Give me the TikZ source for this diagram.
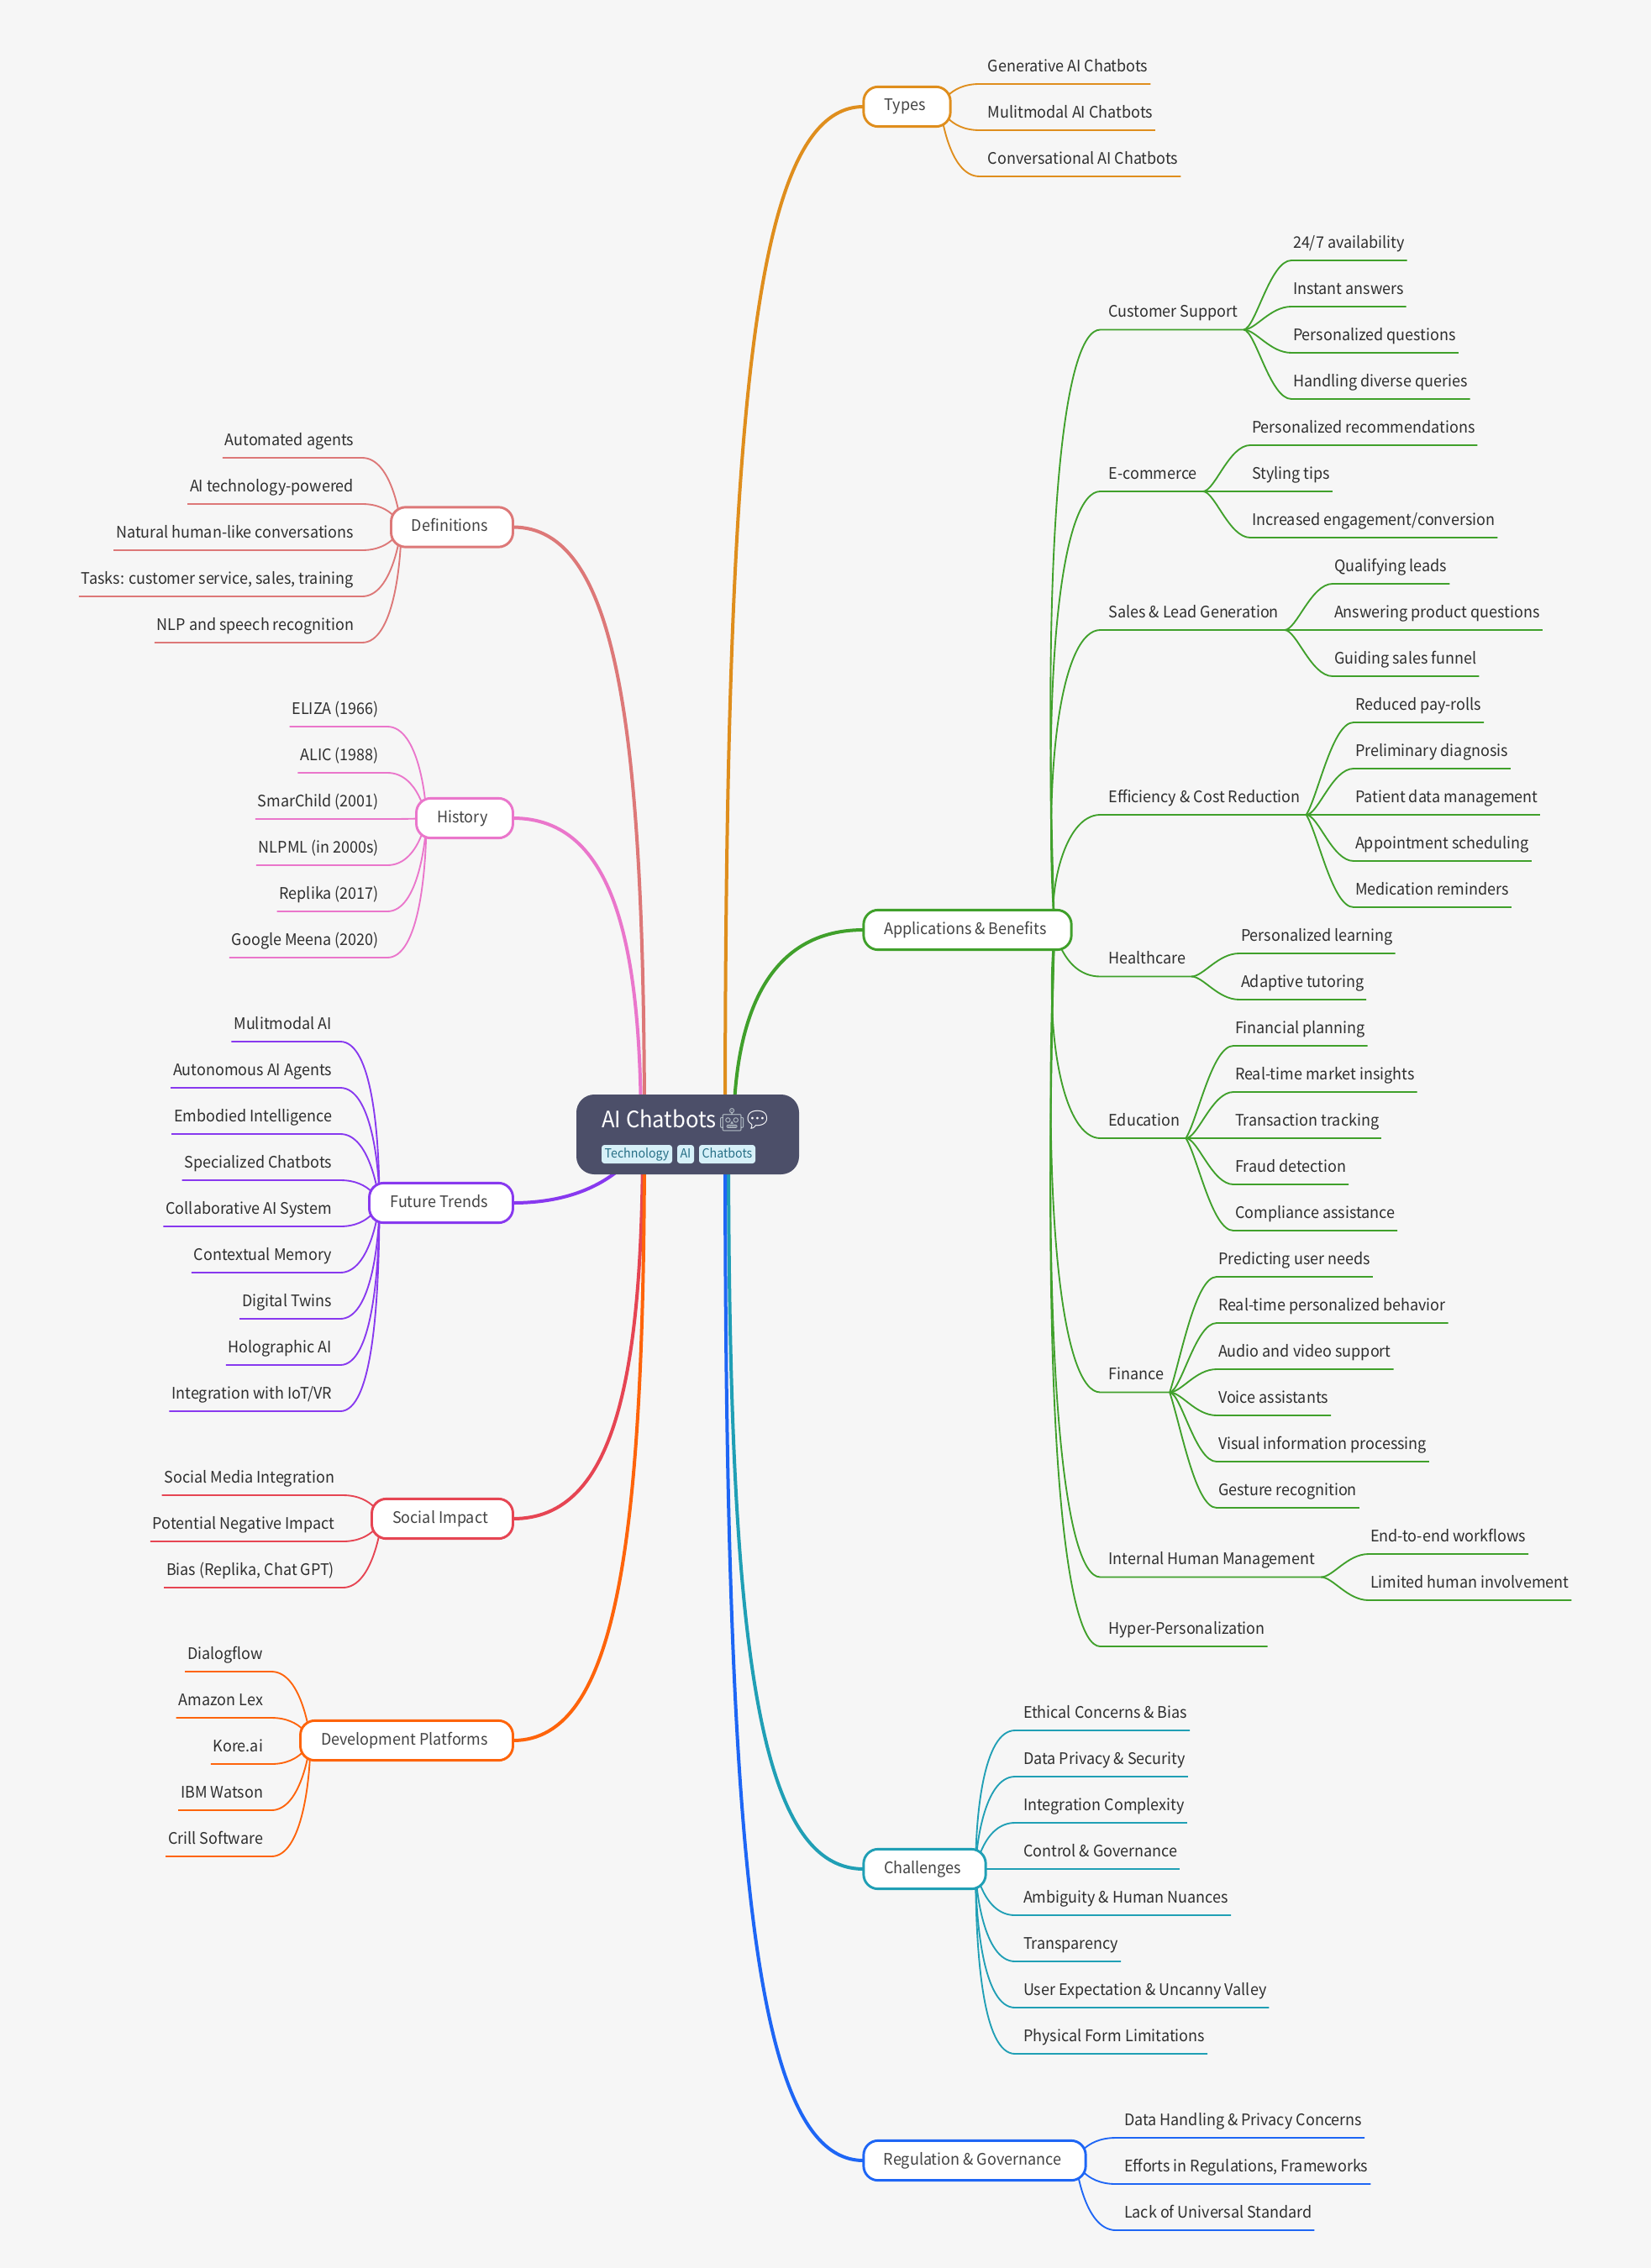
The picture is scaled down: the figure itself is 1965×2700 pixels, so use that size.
\documentclass[tikz,border=0pt]{standalone}
\usepackage{fontspec}
\usetikzlibrary{calc}
\setmainfont[FakeStretch=0.95]{Noto Sans CJK SC}
\newfontfamily\emojifont{Noto Emoji}
\definecolor{bgc}{HTML}{F6F6F6}
\definecolor{cdef}{HTML}{DD7878}
\definecolor{chis}{HTML}{EA76CB}
\definecolor{cfut}{HTML}{8839EF}
\definecolor{csoc}{HTML}{E64553}
\definecolor{cdev}{HTML}{FE640B}
\definecolor{ctyp}{HTML}{DF8E1D}
\definecolor{capp}{HTML}{40A02B}
\definecolor{ccha}{HTML}{209FB5}
\definecolor{creg}{HTML}{1E66F5}
\definecolor{croot}{HTML}{4C4F69}
\definecolor{ctagf}{HTML}{D6F0F8}
\definecolor{ctagt}{HTML}{276F86}
\definecolor{cleaf}{HTML}{2F2F2F}
\definecolor{cbox}{HTML}{444444}
\pgfdeclarelayer{bg}
\pgfsetlayers{bg,main}
\tikzset{
  leaf/.style={inner sep=0pt,outer sep=0pt,font=\fontsize{14.2pt}{16pt}\selectfont,text=cleaf,text height=12pt,text depth=11pt},
  topic/.style={draw=#1,fill=white,line width=2.2pt,rounded corners=13pt,inner sep=0pt,outer sep=0pt,
     font=\fontsize{14.2pt}{16pt}\selectfont,text=cbox,text height=11.5pt,text depth=4pt,minimum height=35.5pt,
     execute at end node={\hspace{3.75pt}}},
  twig/.style={draw=#1,line width=1.4pt,line join=round},
  limb/.style={draw=#1,line width=3pt},
  tagbox/.style={fill=ctagf,rounded corners=2.5pt,inner sep=0pt,outer sep=0pt,text=ctagt,
     font=\fontsize{11.2pt}{13pt}\selectfont,text height=11.6pt,text depth=4.9pt},
}
\newcommand\eoff{7.5pt}
\newcommand\tail{2.25pt}
\newcommand\dip{0}
\newcommand\ca{0}
\newcommand\cb{0.2}
% curve from #1 to #2
\newcommand\curvepath[2]{let \p1=(#1),\p2=(#2),\n1={max(abs(\y2-\y1),1pt)},\n2={max(0,0.75*(1-60/\n1))} in
  (\p1) .. controls ({\x1+\ca*(\x2-\x1)-\dip*\n2*0.75},{\y1+\n2*(\y2-\y1)}) and ({\x1+\cb*(\x2-\x1)},\y2) .. (\p2)}
% right leaf: name, x, y, text, parent coordinate, colour
\newcommand\LR[6]{\node[leaf,anchor=south west] (#1) at (#2,#3) {#4};
  \begin{pgfonlayer}{bg}
  \draw[twig=#6] \curvepath{#5}{$(#1.south west)+(-\eoff,0)$} -- ($(#1.south east)+(\tail,0)$);
  \end{pgfonlayer}}
% left leaf
\newcommand\LL[6]{\node[leaf,anchor=south east] (#1) at (#2,#3) {#4};
  \begin{pgfonlayer}{bg}
  \draw[twig=#6] \curvepath{#5}{$(#1.south east)+(\eoff,0)$} -- ($(#1.south west)+(-\tail,0)$);
  \end{pgfonlayer}}
\begin{document}
\begin{tikzpicture}[x=0.75pt,y=-0.75pt]
\useasboundingbox (0,0) rectangle (1965,2700);
\begin{pgfonlayer}{bg}
\fill[bgc] (0,0) rectangle (1965,2700);
\end{pgfonlayer}

% root and its starting coordinates
\node[fill=croot,rounded corners=16pt,minimum width=198.75pt,minimum height=71.25pt,inner sep=0pt,outer sep=0pt] (root) at (818.5,1350.5) {};
\node[anchor=base west,inner sep=0pt,text=white,font=\fontsize{20.2pt}{24pt}\selectfont] (title) at (716,1342) {AI Chatbots\hspace{1pt}{\emojifont\textcolor[HTML]{B4BEC6}{🤖}\hspace{-3pt}\textcolor{white}{💬}}};
\node[tagbox,minimum width=63pt,minimum height=16.5pt] (tag1) at (758,1374) {Technology};
\node[tagbox,minimum width=15pt,minimum height=16.5pt] (tag2) at (816,1374) {AI};
\node[tagbox,minimum width=50.25pt,minimum height=16.5pt] (tag3) at (865.5,1374) {Chatbots};

\coordinate (s-typ) at (863,1350);
\coordinate (s-app) at (873,1350);
\coordinate (s-cha) at (867,1350);
\coordinate (s-reg) at (863,1350);
\coordinate (s-def) at (767,1350);
\coordinate (s-his) at (763,1350);
\coordinate (s-fut) at (770,1350);
\coordinate (s-soc) at (765,1350);
\coordinate (s-dev) at (767,1350);

% topics
\node[topic=ctyp,minimum width=77.5pt] (typ) at (1079.5,127) {Types};
\node[topic=capp,minimum width=185.5pt] (app) at (1151.5,1107) {Applications \& Benefits};
\node[topic=ccha,minimum width=109pt] (cha) at (1100.5,2225) {Challenges};
\node[topic=creg,minimum width=198.25pt] (reg) at (1160,2572) {Regulation \& Governance};
\node[topic=cdef,minimum width=108.75pt] (def) at (538,627.5) {Definitions};
\node[topic=chis,minimum width=86.25pt] (his) at (553,974) {History};
\node[topic=cfut,minimum width=128.25pt] (fut) at (525,1432) {Future Trends};
\node[topic=csoc,minimum width=126pt] (soc) at (526.5,1808) {Social Impact};
\node[topic=cdev,minimum width=189.75pt] (dev) at (484,2072) {Development Platforms};

\begin{pgfonlayer}{bg}
\draw[limb=ctyp] \curvepath{s-typ}{typ.west};
\draw[limb=capp] \curvepath{s-app}{app.west};
\draw[limb=ccha] \curvepath{s-cha}{cha.west};
\draw[limb=creg] \curvepath{s-reg}{reg.west};
\draw[limb=cdef] \curvepath{s-def}{def.east};
\draw[limb=chis] \curvepath{s-his}{his.east};
\draw[limb=cfut] \curvepath{s-fut}{fut.east};
\draw[limb=csoc] \curvepath{s-soc}{soc.east};
\draw[limb=cdev] \curvepath{s-dev}{dev.east};
\end{pgfonlayer}

% start coordinates inside topics
\coordinate (b-typ) at ($(typ.east)+(-9pt,0)$);
\coordinate (b-app) at ($(app.east)+(-15pt,0)$);
\coordinate (b-cha) at ($(cha.east)+(-9pt,0)$);
\coordinate (b-reg) at ($(reg.east)+(-9pt,0)$);
\coordinate (b-def) at ($(def.west)+(9pt,0)$);
\coordinate (b-his) at ($(his.west)+(9pt,0)$);
\coordinate (b-fut) at ($(fut.west)+(9pt,0)$);
\coordinate (b-soc) at ($(soc.west)+(9pt,0)$);
\coordinate (b-dev) at ($(dev.west)+(9pt,0)$);

% Types
\LR{t1}{1175.7}{100}{Generative AI Chatbots}{b-typ}{ctyp}
\LR{t2}{1175.7}{155}{Mulitmodal AI Chatbots}{b-typ}{ctyp}
\LR{t3}{1175.7}{210}{Conversational AI Chatbots}{b-typ}{ctyp}

% Challenges
\LR{c1}{1218}{2060}{Ethical Concerns \& Bias}{b-cha}{ccha}
\LR{c2}{1218}{2115}{Data Privacy \& Security}{b-cha}{ccha}
\LR{c3}{1218}{2170}{Integration Complexity}{b-cha}{ccha}
\LR{c4}{1218}{2225}{Control \& Governance}{b-cha}{ccha}
\LR{c5}{1218}{2280}{Ambiguity \& Human Nuances}{b-cha}{ccha}
\LR{c6}{1218}{2335}{Transparency}{b-cha}{ccha}
\LR{c7}{1218}{2390}{User Expectation \& Uncanny Valley}{b-cha}{ccha}
\LR{c8}{1218}{2445}{Physical Form Limitations}{b-cha}{ccha}

% Regulation
\LR{r1}{1338}{2545}{Data Handling \& Privacy Concerns}{b-reg}{creg}
\LR{r2}{1338}{2600}{Efforts in Regulations, Frameworks}{b-reg}{creg}
\LR{r3}{1338}{2655}{Lack of Universal Standard}{b-reg}{creg}

% left groups
\LL{d1}{421}{545}{Automated agents}{b-def}{cdef}
\LL{d2}{421}{600}{AI technology-powered}{b-def}{cdef}
\LL{d3}{421}{655}{Natural human-like conversations}{b-def}{cdef}
\LL{d4}{421}{710}{Tasks: customer service, sales, training}{b-def}{cdef}
\LL{d5}{421}{765}{NLP and speech recognition}{b-def}{cdef}

\LL{h1}{451}{865}{ELIZA (1966)}{b-his}{chis}
\LL{h2}{451}{920}{ALIC (1988)}{b-his}{chis}
\LL{h3}{451}{975}{SmarChild (2001)}{b-his}{chis}
\LL{h4}{451}{1030}{NLPML (in 2000s)}{b-his}{chis}
\LL{h5}{451}{1085}{Replika (2017)}{b-his}{chis}
\LL{h6}{451}{1140}{Google Meena (2020)}{b-his}{chis}

\LL{f1}{395}{1240}{Mulitmodal AI}{b-fut}{cfut}
\LL{f2}{395}{1295}{Autonomous AI Agents}{b-fut}{cfut}
\LL{f3}{395}{1350}{Embodied Intelligence}{b-fut}{cfut}
\LL{f4}{395}{1405}{Specialized Chatbots}{b-fut}{cfut}
\LL{f5}{395}{1460}{Collaborative AI System}{b-fut}{cfut}
\LL{f6}{395}{1515}{Contextual Memory}{b-fut}{cfut}
\LL{f7}{395}{1570}{Digital Twins}{b-fut}{cfut}
\LL{f8}{395}{1625}{Holographic AI}{b-fut}{cfut}
\LL{f9}{395}{1680}{Integration with IoT/VR}{b-fut}{cfut}

\LL{s1}{398}{1780}{Social Media Integration}{b-soc}{csoc}
\LL{s2}{398}{1835}{Potential Negative Impact}{b-soc}{csoc}
\LL{s3}{398}{1890}{Bias (Replika, Chat GPT)}{b-soc}{csoc}

\LL{p1}{313}{1990}{Dialogflow}{b-dev}{cdev}
\LL{p2}{313}{2045}{Amazon Lex}{b-dev}{cdev}
\LL{p3}{313}{2100}{Kore.ai}{b-dev}{cdev}
\LL{p4}{313}{2155}{IBM Watson}{b-dev}{cdev}
\LL{p5}{313}{2210}{Crill Software}{b-dev}{cdev}

% Applications: second level
\renewcommand\dip{25}
\renewcommand\tail{5.25pt}
\LR{a1}{1319.5}{392.5}{Customer Support}{b-app}{capp}
\LR{a2}{1319.5}{585}{E-commerce}{b-app}{capp}
\LR{a3}{1319.5}{750}{Sales \& Lead Generation}{b-app}{capp}
\LR{a4}{1319.5}{970}{Efficiency \& Cost Reduction}{b-app}{capp}
\LR{a5}{1319.5}{1162.5}{Healthcare}{b-app}{capp}
\LR{a6}{1319.5}{1355}{Education}{b-app}{capp}
\LR{a7}{1319.5}{1657.5}{Finance}{b-app}{capp}
\LR{a8}{1319.5}{1877.5}{Internal Human Management}{b-app}{capp}
\renewcommand\tail{2.25pt}
\LR{a9}{1319.5}{1960}{Hyper-Personalization}{b-app}{capp}
\renewcommand\dip{0}

\coordinate (j1) at ($(a1.south east)+(5.25pt,0)$);
\coordinate (j2) at ($(a2.south east)+(5.25pt,0)$);
\coordinate (j3) at ($(a3.south east)+(5.25pt,0)$);
\coordinate (j4) at ($(a4.south east)+(5.25pt,0)$);
\coordinate (j5) at ($(a5.south east)+(5.25pt,0)$);
\coordinate (j6) at ($(a6.south east)+(5.25pt,0)$);
\coordinate (j7) at ($(a7.south east)+(5.25pt,0)$);
\coordinate (j8) at ($(a8.south east)+(5.25pt,0)$);

% third level: S-shaped twigs
\renewcommand\eoff{1.5pt}
\renewcommand\ca{0.25}
\renewcommand\cb{0.55}
\LR{a11}{1539}{310}{24/7 availability}{j1}{capp}
\LR{a12}{1539}{365}{Instant answers}{j1}{capp}
\LR{a13}{1539}{420}{Personalized questions}{j1}{capp}
\LR{a14}{1539}{475}{Handling diverse queries}{j1}{capp}

\LR{a21}{1490}{530}{Personalized recommendations}{j2}{capp}
\LR{a22}{1490}{585}{Styling tips}{j2}{capp}
\LR{a23}{1490}{640}{Increased engagement/conversion}{j2}{capp}

\LR{a31}{1588}{695}{Qualifying leads}{j3}{capp}
\LR{a32}{1588}{750}{Answering product questions}{j3}{capp}
\LR{a33}{1588}{805}{Guiding sales funnel}{j3}{capp}

\LR{a41}{1613}{860}{Reduced pay-rolls}{j4}{capp}
\LR{a42}{1613}{915}{Preliminary diagnosis}{j4}{capp}
\LR{a43}{1613}{970}{Patient data management}{j4}{capp}
\LR{a44}{1613}{1025}{Appointment scheduling}{j4}{capp}
\LR{a45}{1613}{1080}{Medication reminders}{j4}{capp}

\LR{a51}{1477}{1135}{Personalized learning}{j5}{capp}
\LR{a52}{1477}{1190}{Adaptive tutoring}{j5}{capp}

\LR{a61}{1470}{1245}{Financial planning}{j6}{capp}
\LR{a62}{1470}{1300}{Real-time market insights}{j6}{capp}
\LR{a63}{1470}{1355}{Transaction tracking}{j6}{capp}
\LR{a64}{1470}{1410}{Fraud detection}{j6}{capp}
\LR{a65}{1470}{1465}{Compliance assistance}{j6}{capp}

\LR{a71}{1450}{1520}{Predicting user needs}{j7}{capp}
\LR{a72}{1450}{1575}{Real-time personalized behavior}{j7}{capp}
\LR{a73}{1450}{1630}{Audio and video support}{j7}{capp}
\LR{a74}{1450}{1685}{Voice assistants}{j7}{capp}
\LR{a75}{1450}{1740}{Visual information processing}{j7}{capp}
\LR{a76}{1450}{1795}{Gesture recognition}{j7}{capp}

\LR{a81}{1631}{1850}{End-to-end workflows}{j8}{capp}
\LR{a82}{1631}{1905}{Limited human involvement}{j8}{capp}
\end{tikzpicture}
\end{document}
